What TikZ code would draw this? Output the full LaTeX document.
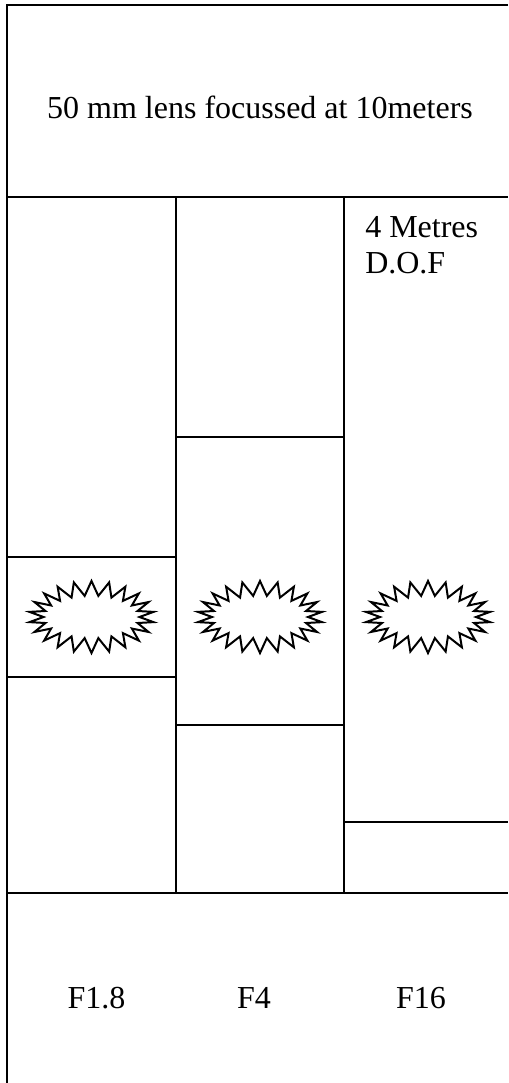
\documentclass[tikz,border=0pt]{standalone}
\usepackage{fontspec}
\setmainfont{Liberation Serif}
\usetikzlibrary{shapes.symbols}

\tikzset{
  grid line/.style={line width=1.5pt},
  label text/.style={inner sep=0pt, font=\fontsize{24}{27}\selectfont},
  burst/.style={starburst, starburst points=22, starburst point height=11pt,
                random starburst=0, draw, line width=1.5pt,
                minimum width=94pt, minimum height=54pt, inner sep=0pt},
}

\begin{document}
\begin{tikzpicture}[x=0.75pt, y=-0.75pt]
    \useasboundingbox (0,0) rectangle (508,1083);
    % outer frame and rows
    \draw[grid line] (508,5) -- (7,5) -- (7,1083);
    \draw[grid line] (7,197) -- (508,197);
    \draw[grid line] (7,893) -- (508,893);
    % columns
    \draw[grid line] (176,197) -- (176,893);
    \draw[grid line] (344,197) -- (344,893);
    % depth of field bands
    \draw[grid line] (7,557) -- (176,557);
    \draw[grid line] (7,677) -- (176,677);
    \draw[grid line] (176,437) -- (344,437);
    \draw[grid line] (176,725) -- (344,725);
    \draw[grid line] (344,822) -- (508,822);

    \node[label text, anchor=base] (title) at (260,118) {50 mm lens focussed at 10meters};
    \node[label text, anchor=base west] (dofa) at (365,237) {4 Metres};
    \node[label text, anchor=base west] (dofb) at (365,273) {D.O.F};

    \node[burst] (subjA) at (91.5,617) {};
    \node[burst] (subjB) at (260,617) {};
    \node[burst] (subjC) at (428,617) {};

    \node[label text, anchor=base] (stopA) at (96.5,1008) {F1.8};
    \node[label text, anchor=base] (stopB) at (254,1008) {F4};
    \node[label text, anchor=base] (stopC) at (421,1008) {F16};
\end{tikzpicture}
\end{document}
